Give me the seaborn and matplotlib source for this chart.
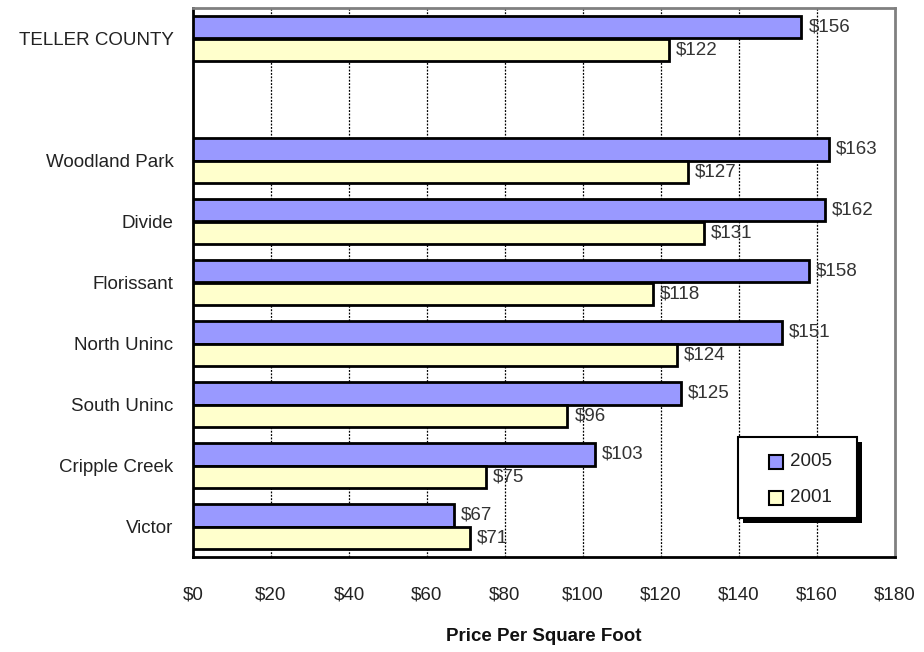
import matplotlib
matplotlib.use("Agg")
import matplotlib.pyplot as plt
from matplotlib.patches import Rectangle
import seaborn as sns
import pandas as pd

# Price per square foot by area
areas = ["TELLER COUNTY", " ", "Woodland Park", "Divide", "Florissant",
         "North Uninc", "South Uninc", "Cripple Creek", "Victor"]
price_2005 = [156, None, 163, 162, 158, 151, 125, 103, 67]
price_2001 = [122, None, 127, 131, 118, 124, 96, 75, 71]
years = ["2005", "2001"]
year_colors = ["#9999ff", "#ffffcc"]
x_ticks = [0, 20, 40, 60, 80, 100, 120, 140, 160, 180]

rows = []
for a, v5, v1 in zip(areas, price_2005, price_2001):
    if v5 is not None:
        rows.append({"area": a, "year": "2005", "price": v5})
    if v1 is not None:
        rows.append({"area": a, "year": "2001", "price": v1})
df = pd.DataFrame(rows)

sns.set_style("white")
plt.rcParams["font.family"] = ["Liberation Sans Narrow", "Liberation Sans", "DejaVu Sans"]

W, H = 924, 652
fig = plt.figure(figsize=(W / 100, H / 100), dpi=100)
ax = fig.add_axes([193 / W, 95 / H, 702 / W, 549 / H])

sns.barplot(data=df, y="area", x="price", hue="year", order=areas,
            hue_order=years, palette=year_colors, orient="h", width=0.735,
            edgecolor="black", linewidth=2, saturation=1, ax=ax, zorder=3,
            legend=False)

ax.set_xlim(0, 180)
ax.set_ylim(len(areas) - 0.5, -0.5)

# dashed vertical gridlines
for xv in x_ticks[1:-1]:
    ax.axvline(xv, color="black", lw=0.9, linestyle=(0, (1.5, 1.2)), zorder=1)

# value labels
for cont, vals in zip(ax.containers, [price_2005, price_2001]):
    labs = [f"${v}" for v in vals if v is not None]
    ax.bar_label(cont, labels=labs, padding=5, fontsize=13.5, color="#333333")

ax.set_xticks(x_ticks)
ax.set_xticklabels([f"${v}" for v in x_ticks], fontsize=13.5, color="#222222")
ax.set_yticks(range(len(areas)))
ax.set_yticklabels(areas, fontsize=13.5, color="#222222")
ax.set_yticks([i - 0.5 for i in range(len(areas) + 1)], minor=True)
ax.tick_params(axis="y", which="major", length=0, pad=14)
ax.tick_params(axis="y", which="minor", length=7, width=1.5, color="black", direction="out")
ax.tick_params(axis="x", which="major", length=7, width=1.5, color="black", direction="out", pad=14)

ax.set_ylabel("")
ax.set_xlabel("Price Per Square Foot", fontsize=13.5, fontweight="bold",
              labelpad=18, color="#111111")

for side in ["left", "bottom"]:
    ax.spines[side].set_color("black")
    ax.spines[side].set_linewidth(2)
for side in ["top", "right"]:
    ax.spines[side].set_color("#808080")
    ax.spines[side].set_linewidth(2)
    ax.spines[side].set_visible(True)


# legend box with drop shadow (figure pixel coordinates, y from top)
def fbox(x0, y0, x1, y1, **kw):
    r = Rectangle((x0 / W, 1 - y1 / H), (x1 - x0) / W, (y1 - y0) / H,
                  transform=fig.transFigure, **kw)
    fig.add_artist(r)
    return r


fbox(743, 442, 862, 523, facecolor="black", edgecolor="black", lw=0, zorder=5)
fbox(738, 437, 857, 518, facecolor="white", edgecolor="black", lw=1.5, zorder=6)
for i, (yr, col) in enumerate(zip(years, year_colors)):
    yc = 462 + 36 * i
    fbox(769, yc - 7, 783, yc + 7, facecolor=col, edgecolor="black", lw=1.5, zorder=7)
    fig.text(790 / W, 1 - yc / H, yr, fontsize=13.5, color="#222222",
             va="center", ha="left", zorder=8)

fig.savefig("out.png", dpi=100)
